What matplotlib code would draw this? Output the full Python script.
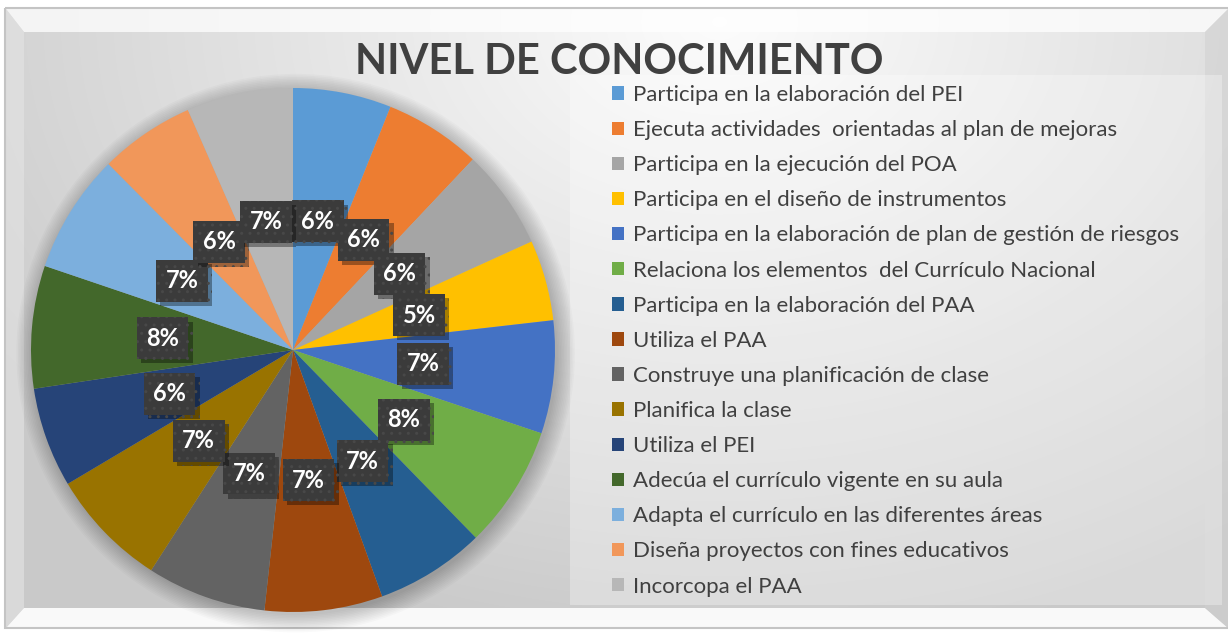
import matplotlib
matplotlib.use("Agg")
import matplotlib.pyplot as plt
from matplotlib.patches import Rectangle, Polygon, Circle
from matplotlib import patheffects
import numpy as np

W, H = 1228, 633

title = 'NIVEL DE CONOCIMIENTO'
categories = [
    'Participa en la elaboración del PEI',
    'Ejecuta actividades  orientadas al plan de mejoras',
    'Participa en la ejecución del POA',
    'Participa en el diseño de instrumentos',
    'Participa en la elaboración de plan de gestión de riesgos',
    'Relaciona los elementos  del Currículo Nacional',
    'Participa en la elaboración del PAA',
    'Utiliza el PAA',
    'Construye una planificación de clase',
    'Planifica la clase',
    'Utiliza el PEI',
    'Adecúa el currículo vigente en su aula',
    'Adapta el currículo en las diferentes áreas',
    'Diseña proyectos con fines educativos',
    'Incorcopa el PAA',
]
values = [61, 60, 62, 50, 70, 76, 68, 73, 74, 74, 62, 76, 74, 59, 66]
colors = ['#5B9BD5', '#ED7D31', '#A5A5A5', '#FFC000', '#4472C4', '#70AD47',
          '#255E91', '#9E480E', '#636363', '#997300', '#264478', '#43682B',
          '#7CAFDD', '#F1975A', '#B7B7B7']

FONT = 'Lato'

fig = plt.figure(figsize=(W / 100, H / 100), dpi=100)
fig.patch.set_facecolor('white')

# background (pixel coords)
bg = fig.add_axes([0, 0, 1, 1])
xx, yy = np.meshgrid(np.linspace(6, 1228, 300), np.linspace(9, 628, 160))
d = np.hypot((xx - 720) / 900, (yy - 20) / 640)
lum = 0.99 - 0.2 * np.clip(d, 0, 1)
bg.imshow(np.dstack([lum] * 3), extent=(6, 1228, 628, 9), aspect='auto',
          interpolation='bicubic', zorder=0)
bg.set_xlim(0, W)
bg.set_ylim(H, 0)
bg.axis('off')

# bevel frame
bg.add_patch(Polygon([(6, 9), (1228, 9), (1205, 32), (24, 32)],
                     facecolor='white', alpha=0.75, lw=0, zorder=1))
bg.add_patch(Polygon([(6, 9), (24, 32), (24, 608), (6, 628)],
                     facecolor='#e4e4e4', alpha=0.6, lw=0, zorder=1))
bg.add_patch(Polygon([(6, 628), (24, 608), (1205, 608), (1228, 628)],
                     facecolor='white', alpha=0.9, lw=0, zorder=1))
bg.add_patch(Polygon([(1205, 32), (1228, 9), (1228, 628), (1205, 608)],
                     facecolor='#cfcfcf', alpha=0.5, lw=0, zorder=1))
bg.add_patch(Rectangle((5, 8), 1230, 620, fill=False, edgecolor='#c4c4c4', lw=1.5, zorder=2))

# legend box
bg.add_patch(Rectangle((570, 75), 652, 530, facecolor='white', alpha=0.3, lw=0, zorder=1))

bg.text(619, 62, title, ha='center', va='center', fontsize=30, fontweight='bold',
        color='#404040', family=FONT, zorder=3)

# pie
R = 262
lim = 1.15
side = 2 * lim * R
cx, cy = 293, 350
pax = fig.add_axes([(cx - side / 2) / W, (H - cy - side / 2) / H, side / W, side / H])
pax.set_xlim(-lim, lim)
pax.set_ylim(-lim, lim)
pax.set_aspect('equal')
pax.axis('off')

for k in range(12):
    pax.add_patch(Circle((0.01, -0.012), 1 + 0.006 * k, facecolor='black',
                         alpha=0.02, lw=0, zorder=0))

wedges, texts, autotexts = pax.pie(
    values, colors=colors, startangle=90, counterclock=False,
    autopct='%1.0f%%', pctdistance=0.5, radius=1,
    wedgeprops=dict(linewidth=0),
    textprops=dict(color='white', fontsize=17, fontweight='bold', family=FONT))
pax.set_xlim(-lim, lim)
pax.set_ylim(-lim, lim)

for t in autotexts:
    t.set_zorder(5)
    t.set_bbox(dict(boxstyle='square,pad=0.4', facecolor='#3b3b3b',
                    edgecolor='#484848', hatch='..', linewidth=0))
    t.get_bbox_patch().set_path_effects([
        patheffects.SimplePatchShadow(offset=(3, -3), shadow_rgbFace='black', alpha=0.35),
        patheffects.Normal()])

leg = bg.legend(wedges, categories, loc='upper left', bbox_to_anchor=(612, 85),
                bbox_transform=bg.transData, frameon=False,
                prop=dict(family=FONT, size=16), labelcolor='#404040',
                handlelength=0.55, handleheight=0.55, handletextpad=0.4,
                labelspacing=0.68, borderpad=0, borderaxespad=0)
leg.set_zorder(4)

fig.savefig('out.png', dpi=100)
